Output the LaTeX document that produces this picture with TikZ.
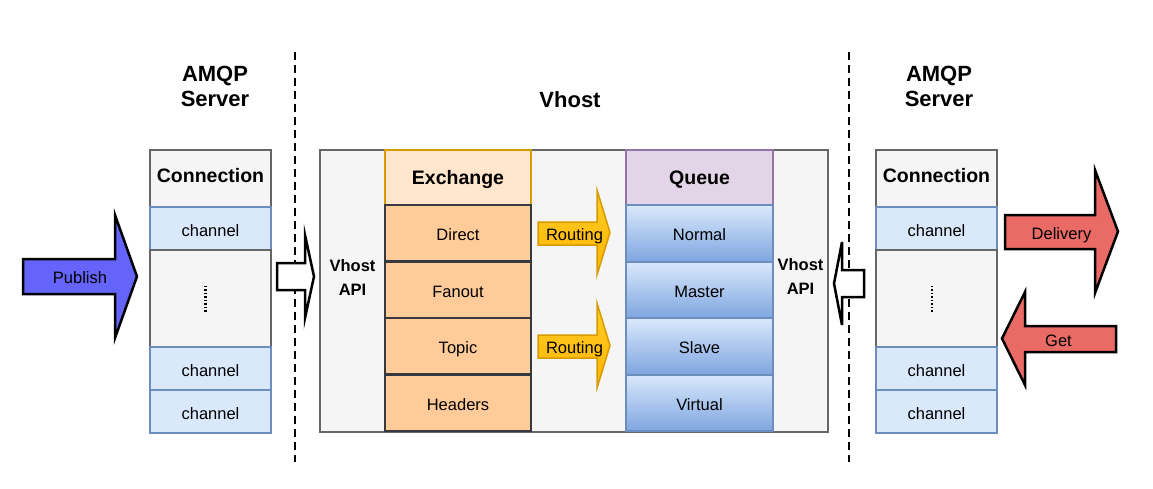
\documentclass[tikz,border=0pt]{standalone}
\usepackage{fontspec}
\setmainfont{Liberation Sans}
\usetikzlibrary{positioning}

\definecolor{boxgray}{HTML}{F5F5F5}
\definecolor{linegray}{HTML}{666666}
\definecolor{chanblue}{HTML}{DAE8FC}
\definecolor{chanline}{HTML}{6C8EBF}
\definecolor{exhead}{HTML}{FFE6CC}
\definecolor{exline}{HTML}{D79B00}
\definecolor{exitem}{HTML}{FFCC99}
\definecolor{exitemline}{HTML}{36393D}
\definecolor{qhead}{HTML}{E1D5E7}
\definecolor{qline}{HTML}{9673A6}
\definecolor{qdark}{HTML}{7EA6E0}
\definecolor{routefill}{HTML}{FFCD28}
\definecolor{routedark}{HTML}{FFB400}
\definecolor{pubblue}{HTML}{6464FA}
\definecolor{redfill}{HTML}{EA6B66}

\begin{document}
\begin{tikzpicture}[x=1pt, y=-1pt,
font=\fontsize{16.5}{19}\selectfont,
title/.style={align=center, font=\fontsize{22}{25}\selectfont\bfseries},
apitext/.style={align=center, font=\fontsize{16.5}{24}\selectfont\bfseries},
graybox/.style={rectangle, draw=linegray, fill=boxgray, line width=2pt, inner sep=0pt, outer sep=0pt},
connhead/.style={graybox, minimum width=121pt, minimum height=57pt, text height=14pt, text depth=7pt, font=\fontsize{19.5}{22}\selectfont\bfseries},
dotcell/.style={graybox, minimum width=121pt, minimum height=97pt},
chan/.style={rectangle, draw=chanline, fill=chanblue, line width=2pt, minimum width=121pt, minimum height=43pt, inner sep=0pt, outer sep=0pt, text height=15pt, text depth=0pt},
exhdr/.style={rectangle, draw=exline, fill=exhead, line width=2pt, minimum width=146pt, minimum height=55pt, inner sep=0pt, outer sep=0pt, text height=14pt, text depth=0pt, font=\fontsize{19.5}{22}\selectfont\bfseries},
exitem/.style={rectangle, draw=exitemline, fill=exitem, line width=2.5pt, minimum width=146pt, minimum height=56.5pt, inner sep=0pt, outer sep=0pt, text height=15pt, text depth=0pt},
qhdr/.style={rectangle, draw=qline, fill=qhead, line width=2pt, minimum width=147pt, minimum height=55pt, inner sep=0pt, outer sep=0pt, text height=14pt, text depth=0pt, font=\fontsize{19.5}{22}\selectfont\bfseries},
qitem/.style={rectangle, draw=chanline, top color=chanblue, bottom color=qdark, line width=2pt, minimum width=147pt, minimum height=56.5pt, inner sep=0pt, outer sep=0pt, text height=15pt, text depth=0pt},
arrowtext/.style={inner sep=0pt, text height=13pt, text depth=0pt},
blockarrow/.style={draw=black, line width=2.5pt, line join=miter},
routearrow/.style={draw=exline, line width=1.5pt, top color=routefill, bottom color=routedark, line join=miter},
sepline/.style={draw=black, line width=2pt, dash pattern=on 8pt off 5pt},
dotline/.style={draw=black, line width=2.5pt, dash pattern=on 1.5pt off 2pt},
]
\useasboundingbox (0,0) rectangle (1153,488);

%Titles
\node[title] (amqpL) at (215,86) {AMQP\\Server};
\node[title] (vtitle) at (570,100) {Vhost};
\node[title] (amqpR) at (939,86) {AMQP\\Server};

%Separators
\draw[sepline] (295,52) -- (295,462);
\draw[sepline] (849,52) -- (849,462);

%Left connection
\node[connhead] (conL) at (210.5,178.5) {Connection};
\node[chan]     (chL1) [below=0pt of conL] {channel};
\node[dotcell]  (dotL) [below=0pt of chL1] {};
\node[chan]     (chL2) [below=0pt of dotL] {channel};
\node[chan]     (chL3) [below=0pt of chL2] {channel};
\draw[dotline] ([xshift=-5pt,yshift=13pt]dotL.center) -- ([xshift=-5pt,yshift=-13pt]dotL.center);

%Vhost
\node[graybox, minimum width=508pt, minimum height=282pt] (vhost) at (574,291) {};
\node[apitext] (apiL) at (352.5,277.5) {Vhost\\API};
\node[apitext] (apiR) at (800.5,276.5) {Vhost\\API};

%Exchange
\node[exhdr]  (exch) at (458,177.5) {Exchange};
\node[exitem] (direct)  [below=0pt of exch]   {Direct};
\node[exitem] (fanout)  [below=0pt of direct] {Fanout};
\node[exitem] (topic)   [below=0pt of fanout] {Topic};
\node[exitem] (headers) [below=0pt of topic]  {Headers};

%Queue
\node[qhdr]  (queue) at (699.5,177.5) {Queue};
\node[qitem] (normal)  [below=0pt of queue]  {Normal};
\node[qitem] (master)  [below=0pt of normal] {Master};
\node[qitem] (slave)   [below=0pt of master] {Slave};
\node[qitem] (virtual) [below=0pt of slave]  {Virtual};

%Right connection
\node[connhead] (conR) at (936.5,178.5) {Connection};
\node[chan]     (chR1) [below=0pt of conR] {channel};
\node[dotcell]  (dotR) [below=0pt of chR1] {};
\node[chan]     (chR2) [below=0pt of dotR] {channel};
\node[chan]     (chR3) [below=0pt of chR2] {channel};
\draw[dotline] ([xshift=-4.5pt,yshift=13pt]dotR.center) -- ([xshift=-4.5pt,yshift=-13pt]dotR.center);

%Arrows
\draw[blockarrow, fill=pubblue] (23,259) -- (115,259) -- (115,215) -- (137,276.5) -- (115,338) -- (115,294) -- (23,294) -- cycle;
\node[arrowtext] (publish) at (80,277) {Publish};
\draw[blockarrow, fill=white] (277,263) -- (305,263) -- (305,235) -- (314,276.5) -- (305,318) -- (305,290) -- (277,290) -- cycle;
\draw[routearrow] (538,222) -- (597,222) -- (597,190) -- (610,232.5) -- (597,275) -- (597,245) -- (538,245) -- cycle;
\node[arrowtext] (route1) at (574.5,234) {Routing};
\draw[routearrow] (538,335) -- (597,335) -- (597,303) -- (610,345.5) -- (597,388) -- (597,358) -- (538,358) -- cycle;
\node[arrowtext] (route2) at (574.5,347) {Routing};
\draw[blockarrow, fill=white] (864,270) -- (842,270) -- (842,242) -- (834,283.5) -- (842,325) -- (842,297) -- (864,297) -- cycle;
\draw[blockarrow, fill=redfill] (1005,215) -- (1095,215) -- (1095,170) -- (1118,231.5) -- (1095,293) -- (1095,249) -- (1005,249) -- cycle;
\node[arrowtext] (delivery) at (1061.5,233) {Delivery};
\draw[blockarrow, fill=redfill] (1116,326) -- (1025,326) -- (1025,292) -- (1002,338.5) -- (1025,385) -- (1025,352) -- (1116,352) -- cycle;
\node[arrowtext] (get) at (1058.5,340) {Get};
\end{tikzpicture}
\end{document}
